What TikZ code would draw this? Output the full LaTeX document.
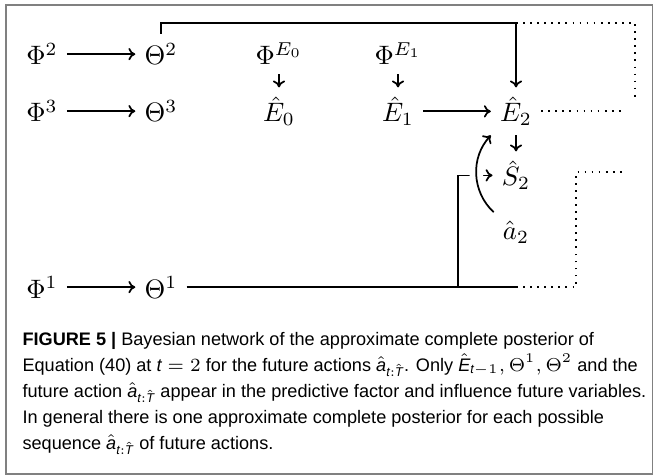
\documentclass[tikz,border=0pt]{standalone}
\usepackage{amsmath,amssymb}
\usepackage{fontspec}
\newfontfamily\capfont{Liberation Sans}
\usetikzlibrary{arrows.meta,positioning}
\newcommand{\sv}[1]{\text{\itshape #1}}

\begin{document}
\begin{tikzpicture}[x=0.375pt,y=-0.375pt,
  var/.style={anchor=base, inner sep=3.3pt},
  arr/.style={-{To[length=2.6pt,width=4.6pt]}, line width=0.65pt},
  link/.style={line width=0.65pt},
  dots/.style={dotted, line width=0.65pt},
  gap/.style={white, line width=5pt}]
\useasboundingbox (0,0) rectangle (654,476);
\draw[gray, line width=0.55pt] (6,5) rectangle (652.5,474);
\node[var] (p2) at (42,65) {$\Phi^2$};
\node[var] (t2) at (161,65) {$\Theta^2$};
\node[var] (pe0) at (279,65) {$\Phi^{E_0}$};
\node[var] (pe1) at (398,65) {$\Phi^{E_1}$};
\node[var] (p3) at (42,122) {$\Phi^3$};
\node[var] (t3) at (161,122) {$\Theta^3$};
\node[var] (e0) at (279,122) {$\hat{E}_0$};
\node[var] (e1) at (398,122) {$\hat{E}_1$};
\node[var] (e2) at (516,122) {$\hat{E}_2$};
\node[var] (s2) at (516,186) {$\hat{S}_2$};
\node[var] (a2) at (516,240) {$\hat{a}_2$};
\node[var] (p1) at (42,298) {$\Phi^1$};
\node[var] (t1) at (161,298) {$\Theta^1$};
\coordinate (c1) at (516,23);
\coordinate (c2) at (635,98);
\coordinate (c3) at (576,172);
\coordinate (c4) at (623,172);
\coordinate (c5) at (623,112);
\coordinate (tap) at (458,0);
\draw[arr] (p2) -- (t2);
\draw[arr] (p3) -- (t3);
\draw[arr] (p1) -- (t1);
\draw[arr] (pe0) -- (e0);
\draw[arr] (pe1) -- (e1);
\draw[arr] (e1) -- (e2);
\draw[arr] (e2) -- (s2);
\draw[arr] (t2.north) |- (c1) -- (e2);
\draw[dots] (c1) -| (c2);
\draw[dots] (e2.east) -- (e2.east -| c5);
\draw[link] (t1) -- (t1 -| e2);
\draw[dots] (t1 -| e2) -- (t1 -| c3) -- (c3) -- (c4);
\draw[arr] (t1 -| tap) |- (s2.west);
\draw[gap] (a2.north west) to[bend left=45] (e2.south west);
\draw[arr] (a2.north west) to[bend left=45] (e2.south west);
\node[anchor=base west, align=left, inner sep=0pt,
  font=\capfont\fontsize{6.8}{9.75}\selectfont] (cap) at (22,449)
  {\textbf{FIGURE 5 |} Bayesian network of the approximate complete posterior of\\
   Equation (40) at $\sv{t}=2$ for the future actions $\hat{\sv{a}}_{\sv{t}{:}\hat{\sv{T}}}$. Only $\hat{\sv{E}}_{\sv{t}-1}, \Theta^1, \Theta^2$ and the\\
   future action $\hat{\sv{a}}_{\sv{t}{:}\hat{\sv{T}}}$ appear in the predictive factor and influence future variables.\\
   In general there is one approximate complete posterior for each possible\\
   sequence $\hat{\sv{a}}_{\sv{t}{:}\hat{\sv{T}}}$ of future actions.};
\end{tikzpicture}
\end{document}
